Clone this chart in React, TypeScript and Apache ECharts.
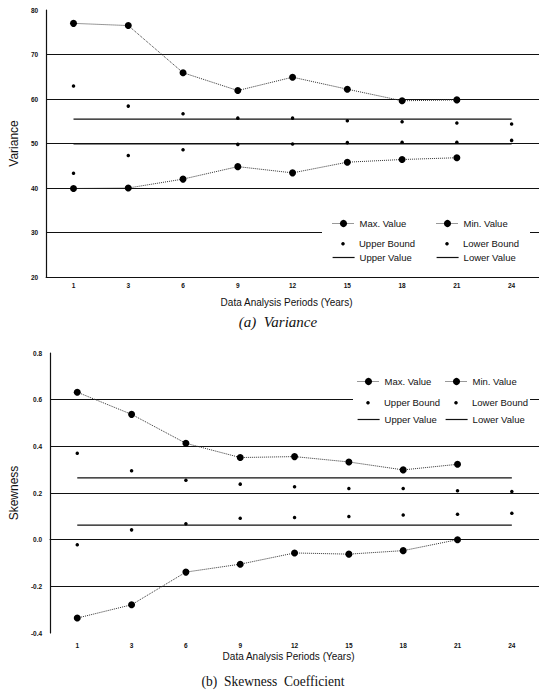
import React, { useEffect, useRef } from "react";
import * as echarts from "echarts";

const periods = ["1", "3", "6", "9", "12", "15", "18", "21", "24"];

const varMax = [77.0, 76.5, 65.9, 61.9, 64.9, 62.2, 59.6, 59.8, null];
const varMin = [39.9, 40.0, 42.0, 44.8, 43.4, 45.8, 46.4, 46.8, null];
const varUpperBound = [62.9, 58.4, 56.7, 55.7, 55.7, 55.1, 54.9, 54.6, 54.4];
const varLowerBound = [43.3, 47.3, 48.6, 49.8, 49.9, 50.2, 50.3, 50.3, 50.7];
const varUpperValue = [55.5, 55.5, 55.5, 55.5, 55.5, 55.5, 55.5, 55.5, 55.5];
const varLowerValue = [49.9, 49.9, 49.9, 49.9, 49.9, 49.9, 49.9, 49.9, 49.9];

const skewMax = [0.632, 0.537, 0.413, 0.352, 0.356, 0.333, 0.299, 0.323, null];
const skewMin = [-0.336, -0.279, -0.139, -0.105, -0.057, -0.062, -0.047, 0.0, null];
const skewUpperBound = [0.37, 0.295, 0.255, 0.238, 0.227, 0.219, 0.219, 0.21, 0.206];
const skewLowerBound = [-0.022, 0.042, 0.068, 0.092, 0.095, 0.099, 0.106, 0.109, 0.113];
const skewUpperValue = [0.265, 0.265, 0.265, 0.265, 0.265, 0.265, 0.265, 0.265, 0.265];
const skewLowerValue = [0.062, 0.062, 0.062, 0.062, 0.062, 0.062, 0.062, 0.062, 0.062];

const INK = "#111";
const SANS = "'Liberation Sans', Arial, sans-serif";
const SERIF = "'Liberation Serif', 'Times New Roman', serif";

function buildSeries(idx: number, mx: any[], mn: any[], ub: any[], lb: any[], uv: any[], lv: any[]) {
  const base = { xAxisIndex: idx, yAxisIndex: idx, silent: true };
  const dotted = {
    ...base,
    type: "line",
    symbol: "circle",
    symbolSize: 7,
    showAllSymbol: true,
    lineStyle: { color: "#333", width: 1, type: "dotted" },
    itemStyle: { color: "#000" },
    z: 4,
  };
  const flat = {
    ...base,
    type: "line",
    symbol: "none",
    lineStyle: { color: INK, width: 1.2, type: "solid" },
    itemStyle: { color: INK },
    z: 2,
  };
  const dot = {
    ...base,
    type: "line",
    symbol: "circle",
    symbolSize: 3.5,
    showAllSymbol: true,
    lineStyle: { width: 0, opacity: 0 },
    itemStyle: { color: "#000" },
    z: 3,
  };
  return [
    { ...dotted, name: "Max. Value", data: mx },
    { ...dotted, name: "Min. Value", data: mn },
    { ...dot, name: "Upper Bound", data: ub },
    { ...dot, name: "Lower Bound", data: lb },
    { ...flat, name: "Upper Value", data: uv },
    { ...flat, name: "Lower Value", data: lv },
  ];
}

function lg(item: any, left: number, cy: number, w: number, h: number, lineStyle: any) {
  return {
    data: [item],
    left,
    top: cy - h / 2,
    orient: "horizontal",
    itemWidth: w,
    itemHeight: h,
    padding: 0,
    selectedMode: false,
    z: 5,
    lineStyle,
    textStyle: { fontSize: 9.5, fontFamily: SANS, color: INK },
  };
}

function legendsFor(c1: number, c2: number, rows: number[]) {
  const dl = { width: 1, type: "dotted", color: "#333" };
  const nl = { width: 0, opacity: 0 };
  const sl = { width: 1.2, type: "solid", color: INK };
  return [
    lg("Max. Value", c1, rows[0], 22, 9, dl),
    lg("Min. Value", c2, rows[0], 22, 9, dl),
    lg("Upper Bound", c1, rows[1], 22, 4.4, nl),
    lg("Lower Bound", c2, rows[1], 22, 4.4, nl),
    lg({ name: "Upper Value", itemStyle: { opacity: 0 } }, c1, rows[2], 22, 9, sl),
    lg({ name: "Lower Value", itemStyle: { opacity: 0 } }, c2, rows[2], 22, 9, sl),
  ];
}

function xAxisOf(idx: number, margin: number, gap: number) {
  return {
    type: "category",
    gridIndex: idx,
    data: periods,
    boundaryGap: true,
    axisTick: { show: false },
    axisLine: { lineStyle: { color: INK, width: 1.2 } },
    axisLabel: { fontSize: 6.5, fontWeight: "bold", color: INK, margin, fontFamily: SANS },
    splitLine: { show: false },
    name: "Data Analysis Periods (Years)",
    nameLocation: "middle",
    nameGap: gap,
    nameTextStyle: { fontSize: 10, color: INK, fontFamily: SANS, padding: [0, 12, 0, 0] },
  };
}

function yAxisOf(idx: number, name: string, min: number, max: number, interval: number, fmt: (v: number) => string) {
  return {
    type: "value",
    gridIndex: idx,
    min,
    max,
    interval,
    axisLine: { show: true, lineStyle: { color: INK, width: 1.2 } },
    axisTick: { show: false },
    axisLabel: { fontSize: 6.5, fontWeight: "bold", color: INK, margin: 8, fontFamily: SANS, formatter: fmt },
    splitLine: {
      show: true,
      showMinLine: false,
      showMaxLine: false,
      lineStyle: { color: INK, width: 1.2 },
    },
    name,
    nameLocation: "middle",
    nameGap: 21,
    nameTextStyle: { fontSize: 12, color: INK, fontFamily: SANS },
  };
}

export default function App() {
  const ref = useRef<HTMLDivElement>(null);
  useEffect(() => {
    if (!ref.current) return;
    const chart = echarts.init(ref.current, undefined, { renderer: "svg" });
    chart.setOption({
      animation: false,
      backgroundColor: "#fff",
      grid: [
        { left: 41, top: 10, width: 500, height: 267 },
        { left: 41, top: 353, width: 500, height: 280 },
      ],
      xAxis: [xAxisOf(0, 5, 20), xAxisOf(1, 9, 18)],
      yAxis: [
        yAxisOf(0, "Variance", 20, 80, 10, (v: number) => String(v)),
        yAxisOf(1, "Skewness", -0.4, 0.8, 0.2, (v: number) => v.toFixed(1)),
      ],
      legend: [
        ...legendsFor(332, 436, [223, 241, 257]),
        ...legendsFor(357, 445, [381, 400, 419]),
      ],
      series: [
        ...buildSeries(0, varMax, varMin, varUpperBound, varLowerBound, varUpperValue, varLowerValue),
        ...buildSeries(1, skewMax, skewMin, skewUpperBound, skewLowerBound, skewUpperValue, skewLowerValue),
      ],
      graphic: [
        { type: "rect", z: 3, silent: true, shape: { x: 322, y: 213, width: 208, height: 52 }, style: { fill: "#fff" } },
        { type: "rect", z: 3, silent: true, shape: { x: 353, y: 372, width: 177, height: 56 }, style: { fill: "#fff" } },
        {
          type: "text",
          x: 278,
          y: 322,
          z: 5,
          style: { text: "(a)  Variance", font: `italic 15px ${SERIF}`, fill: INK, align: "center", verticalAlign: "middle" },
        },
        {
          type: "text",
          x: 273,
          y: 681,
          z: 5,
          scaleX: 0.9,
          style: { text: "(b)  Skewness  Coefficient", font: `15px ${SERIF}`, fill: INK, align: "center", verticalAlign: "middle" },
        },
      ],
    });
    return () => chart.dispose();
  }, []);
  return (
    <div
      ref={ref}
      style={{ position: "absolute", left: 0, top: 0, width: 539, height: 691, background: "#fff" }}
    />
  );
}
